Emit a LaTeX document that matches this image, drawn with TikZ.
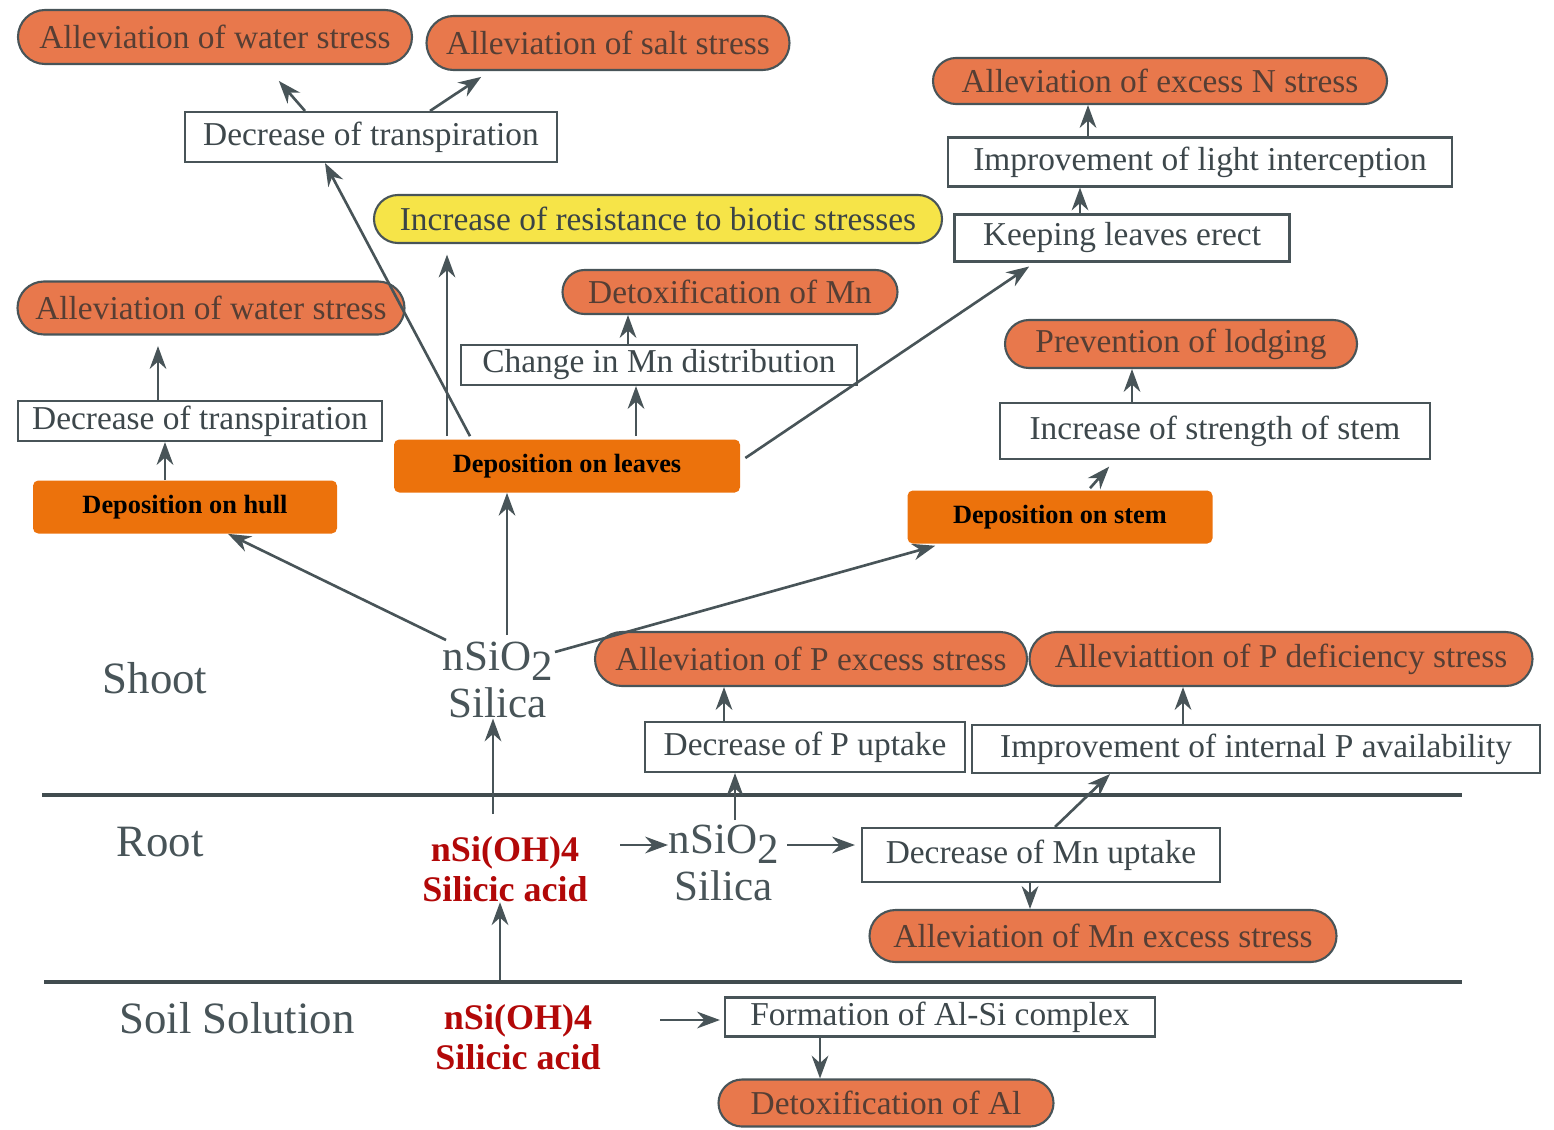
\documentclass[tikz,border=0pt]{standalone}
\usepackage{fontspec}
\setmainfont{Liberation Serif}
\usetikzlibrary{calc,arrows.meta,shapes.misc}

\definecolor{pill}{RGB}{232,120,76}
\definecolor{depo}{RGB}{236,114,12}
\definecolor{bio}{RGB}{246,228,72}
\definecolor{ink}{RGB}{72,84,88}
\definecolor{pilltext}{RGB}{86,62,52}
\definecolor{acid}{RGB}{178,8,8}

\tikzset{
  pillbox/.style 2 args={rounded rectangle, draw=ink, line width=1.2pt, fill=pill,
    text=pilltext, font=\fontsize{19}{22}\selectfont, inner sep=0pt,
    minimum width=#1*0.02cm, minimum height=#2*0.02cm},
  biobox/.style 2 args={pillbox={#1}{#2}, fill=bio, text=ink!80!black},
  whitebox/.style 2 args={rectangle, draw=ink, line width=1.2pt, fill=white,
    text=ink!85!black, font=\fontsize{19}{22}\selectfont, inner sep=0pt,
    minimum width=#1*0.02cm, minimum height=#2*0.02cm},
  depobox/.style 2 args={rectangle, rounded corners=3pt, fill=depo, text=black,
    font=\bfseries\fontsize{15}{17}\selectfont, inner sep=0pt,
    minimum width=#1*0.02cm, minimum height=#2*0.02cm},
  arrow/.style={draw=ink, line width=1.5pt, -{Stealth[length=13pt,width=9.5pt]}},
  layer/.style={draw=ink!90!black, line width=2.8pt},
  zone/.style={text=ink, font=\fontsize{25.5}{29}\selectfont},
  silica/.style={text=ink, font=\fontsize{24.5}{27}\selectfont, align=center, inner sep=0pt},
  acidtext/.style={text=acid, font=\bfseries\fontsize{20.5}{23}\selectfont, align=center, inner sep=0pt}
}

\newcommand{\sitwo}{nSiO\raisebox{-0.5ex}{2}}

\begin{document}
\begin{tikzpicture}[x=0.02cm,y=-0.02cm]
	\useasboundingbox (0,0) rectangle (1554,1129);

	%layers
	\draw[layer] (42,795) -- (1462,795);
	\draw[layer] (44,982) -- (1462,982);
	\node[zone] (shoot) at (155,678) {Shoot};
	\node[zone] (root) at (160,842) {Root};
	\node[zone] (soil) at (237,1018) {Soil Solution};

	%silicon forms
	\node[silica] (sio2top) at (498,680) {\sitwo\\Silica};
	\node[acidtext] (acidroot) at (505,869) {nSi(OH)4\\Silicic acid};
	\node[silica] (sio2root) at (724,863) {\sitwo\\Silica};
	\node[acidtext] (acidsoil) at (518,1037) {nSi(OH)4\\Silicic acid};

	%deposition
	\node[depobox={304}{53}] (hull) at (185,507) {Deposition on hull};
	\node[depobox={346}{53}] (leaves) at (567,466) {Deposition on leaves};
	\node[depobox={305}{53}] (stem) at (1060,517) {Deposition on  stem};

	%hull branch
	\node[whitebox={364}{40}] (transp2) at (200,421) {Decrease of transpiration};
	\node[pillbox={387}{53}] (water2) at (211,308) {Alleviation of water stress};

	%leaves branch
	\node[whitebox={372}{50}] (transp1) at (371,137) {Decrease of transpiration};
	\node[pillbox={394}{54}] (water1) at (215,37) {Alleviation of water stress};
	\node[pillbox={363}{54}] (salt) at (608,43) {Alleviation of salt stress};
	\node[biobox={568}{48}] (biotic) at (658,219) {Increase of resistance to biotic stresses};
	\node[whitebox={396}{40}] (mndist) at (659,365) {Change in Mn distribution};
	\node[pillbox={335}{44}] (mndetox) at (730,292) {Detoxification of Mn};
	\node[whitebox={335}{47}] (erect) at (1122,238) {Keeping leaves erect};
	\node[whitebox={504}{49}] (light) at (1200,162) {Improvement of light interception};
	\node[pillbox={454}{46}] (excessn) at (1160,81) {Alleviation of excess N stress};

	%stem branch
	\node[whitebox={430}{56}] (strength) at (1215,431) {Increase of strength of stem};
	\node[pillbox={352}{48}] (lodging) at (1181,344) {Prevention of lodging};

	%root
	\node[whitebox={320}{50}] (puptake) at (805,747) {Decrease of P uptake};
	\node[pillbox={432}{54}] (pexcess) at (811,659) {Alleviation of P excess stress};
	\node[whitebox={568}{48}] (internalp) at (1256,749) {Improvement of internal P availability};
	\node[pillbox={503}{54}] (pdef) at (1281,659) {Alleviattion of P deficiency stress};
	\node[whitebox={358}{54}] (mnup) at (1041,855) {Decrease of Mn uptake};
	\node[pillbox={467}{52}] (mnexcess) at (1103,936) {Alleviation of Mn excess stress};

	%soil
	\node[whitebox={430}{39}] (alsi) at (940,1017) {Formation of Al-Si complex};
	\node[pillbox={335}{47}] (aldetox) at (886,1103) {Detoxification of Al};

	%arrows from silica in shoot
	\draw[arrow] ($(sio2top)+(-52,-40)$) -- ($(hull.south)+(43,0)$);
	\draw[arrow] ($(sio2top)+(9,-45)$) -- ($(leaves.south)+(-60,0)$);
	\draw[arrow, shorten >=4pt] ($(sio2top)+(57,-28)$) -- ($(stem.south)+(-118,0)$);

	%hull
	\draw[arrow] ($(hull.north)+(-20,0)$) -- ($(transp2.south)+(-35,0)$);
	\draw[arrow, shorten >=6pt] ($(transp2.north)+(-42,0)$) -- ($(water2.south)+(-53,0)$);

	%leaves
	\draw[arrow] ($(leaves.north)+(-97,-3)$) -- ($(transp1.south)+(-46,0)$);
	\draw[arrow, shorten >=12pt] ($(transp1.north)+(-66,0)$) -- ($(water1.south)+(50,0)$);
	\draw[arrow, shorten >=6pt] ($(transp1.north)+(59,0)$) -- ($(salt.south)+(-118,0)$);
	\draw[arrow, shorten >=6pt] ($(leaves.north)+(-120,-3)$) -- ($(biotic.south)+(-211,0)$);
	\draw[arrow] ($(leaves.north)+(69,-3)$) -- ($(mndist.south)+(-23,0)$);
	\draw[arrow] ($(mndist.north)+(-31,0)$) -- ($(mndetox.south)+(-102,0)$);
	\draw[arrow, shorten >=4pt] ($(leaves.east)+(5,-8)$) -- ($(erect.south)+(-87,0)$);
	\draw[arrow] ($(erect.north)+(-42,0)$) -- ($(light.south)+(-120,0)$);
	\draw[arrow] ($(light.north)+(-112,0)$) -- ($(excessn.south)+(-72,0)$);

	%stem
	\draw[arrow, shorten >=5pt] ($(stem.north)+(30,-2)$) -- ($(strength.south)+(-100,0)$);
	\draw[arrow] ($(strength.north)+(-83,0)$) -- ($(lodging.south)+(-49,0)$);

	%root
	\draw[arrow] ($(acidroot)+(-12,-55)$) -- ($(sio2top.south)+(-5,0)$);
	\draw[arrow] ($(acidroot)+(115,-24)$) -- ($(sio2root)+(-56,-18)$);
	\draw[arrow] ($(sio2root)+(63,-18)$) -- ($(mnup.west)+(-6,-10)$);
	\draw[arrow] ($(sio2root)+(11,-43)$) -- ($(puptake.south)+(-70,0)$);
	\draw[arrow] ($(puptake.north)+(-81,0)$) -- ($(pexcess.south)+(-87,0)$);
	\draw[arrow] ($(internalp.north)+(-73,0)$) -- ($(pdef.south)+(-98,0)$);
	\draw[arrow] ($(mnup.north)+(14,0)$) -- ($(internalp.south)+(-146,0)$);
	\draw[arrow] ($(mnup.south)+(-11,0)$) -- ($(mnexcess.north)+(-73,0)$);

	%soil
	\draw[arrow] ($(acidsoil)+(-18,-57)$) -- ($(acidroot.south)+(-5,0)$);
	\draw[arrow] ($(acidsoil)+(142,-17)$) -- ($(alsi.west)+(-4,3)$);
	\draw[arrow] ($(alsi.south)+(-120,0)$) -- ($(aldetox.north)+(-66,0)$);
\end{tikzpicture}
\end{document}
